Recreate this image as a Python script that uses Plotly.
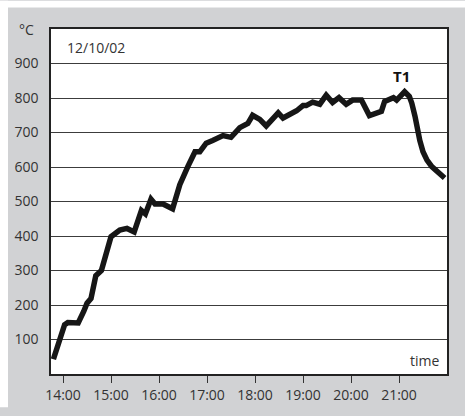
import plotly.graph_objects as go

# Furnace temperature log, 12 October 2002
times = [
    "13:48", "13:54", "13:58", "14:02", "14:06", "14:19", "14:26", "14:30",
    "14:35", "14:41", "14:48",
    "15:00", "15:11", "15:20", "15:29", "15:38", "15:43", "15:50", "15:55",
    "16:05", "16:17", "16:26", "16:36", "16:45", "16:51", "16:59", "17:07",
    "17:20", "17:30", "17:41", "17:51", "17:57", "18:06", "18:14", "18:25",
    "18:29", "18:35", "18:45", "18:52", "19:00", "19:04", "19:12", "19:21",
    "19:29", "19:37", "19:45", "19:54", "20:02", "20:13", "20:23", "20:38",
    "20:42", "20:48", "20:53", "20:57", "21:07", "21:13", "21:16", "21:20",
    "21:23", "21:26", "21:30", "21:35", "21:41", "21:49", "21:57",
]
temps_c = [
    43, 83, 120, 143, 149, 148, 182, 205,
    219, 285, 300,
    398, 417, 422, 412, 474, 464, 507, 493,
    493, 479, 549, 601, 644, 644, 669, 677,
    691, 686, 714, 726, 750, 738, 719, 747,
    757, 742, 752, 763, 778, 778, 788, 782,
    808, 787, 801, 782, 794, 794, 749, 761,
    790, 794, 801, 794, 818, 804, 785, 747,
    709, 677, 644, 620, 601, 585, 568,
]
y_ticks = [100, 200, 300, 400, 500, 600, 700, 800, 900]
x_ticks = ["14:00", "15:00", "16:00", "17:00", "18:00", "19:00", "20:00", "21:00"]

day = "2002-10-12"
stamp = lambda hm: f"{day} {hm}"

W, H = 465, 416
L, R, T, B = 51, 18, 29, 34
pw, ph = W - L - R, H - T - B

def px_x(p):
    return (p - L) / pw

def px_y(p):
    return 1 - (p - T) / ph

FONT = "Open Sans"
TXT = "#333333"
GREY = "#d1d2d4"

fig = go.Figure()
fig.add_trace(go.Scatter(
    x=[stamp(t) for t in times],
    y=temps_c,
    mode="lines",
    line=dict(color="#161616", width=5.5),
    hoverinfo="skip",
))

fig.update_layout(
    width=W, height=H,
    margin=dict(l=L, r=R, t=T, b=B, pad=0),
    paper_bgcolor=GREY,
    plot_bgcolor="white",
    showlegend=False,
    font=dict(family=FONT, size=14, color=TXT),
    xaxis=dict(
        type="date",
        range=[stamp("13:45"), stamp("22:00")],
        tickvals=[stamp(t) for t in x_ticks],
        ticktext=x_ticks,
        ticks="outside", ticklen=7, tickwidth=1, tickcolor="#333333",
        showgrid=False, zeroline=False,
        showline=True, linecolor="#222222", linewidth=1.5, mirror=True,
        tickfont=dict(family=FONT, size=14, color=TXT),
    ),
    yaxis=dict(
        range=[0, 1000],
        tickvals=y_ticks,
        ticks="", showgrid=True, gridcolor="#3c3c3c", gridwidth=1,
        zeroline=False,
        showline=True, linecolor="#222222", linewidth=1.5, mirror=True,
        ticklabelstandoff=8,
        tickfont=dict(family=FONT, size=14, color=TXT),
    ),
    shapes=[
        # white page strips round the grey panel
        dict(type="rect", xref="paper", yref="paper",
             x0=px_x(0), x1=px_x(W), y0=px_y(0), y1=px_y(7),
             fillcolor="white", line=dict(width=0), layer="below"),
        dict(type="rect", xref="paper", yref="paper",
             x0=px_x(0), x1=px_x(8), y0=px_y(0), y1=px_y(H),
             fillcolor="white", line=dict(width=0), layer="below"),
    ],
    annotations=[
        dict(text="°C", xref="paper", yref="paper",
             x=px_x(17), y=px_y(29), xanchor="left", yanchor="middle",
             showarrow=False, font=dict(family=FONT, size=14, color=TXT)),
        dict(text="12/10/02", xref="paper", yref="paper",
             x=px_x(65), y=px_y(48), xanchor="left", yanchor="middle",
             showarrow=False, font=dict(family=FONT, size=14, color=TXT)),
        dict(text="time", xref="paper", yref="paper",
             x=px_x(441), y=px_y(368), xanchor="right", yanchor="middle",
             showarrow=False, font=dict(family=FONT, size=14, color=TXT)),
        dict(text="<b>T1</b>", xref="paper", yref="paper",
             x=px_x(401), y=px_y(77), xanchor="center", yanchor="middle",
             showarrow=False, font=dict(family=FONT, size=15, color="#111111")),
    ],
)

fig.write_html("out.html")
